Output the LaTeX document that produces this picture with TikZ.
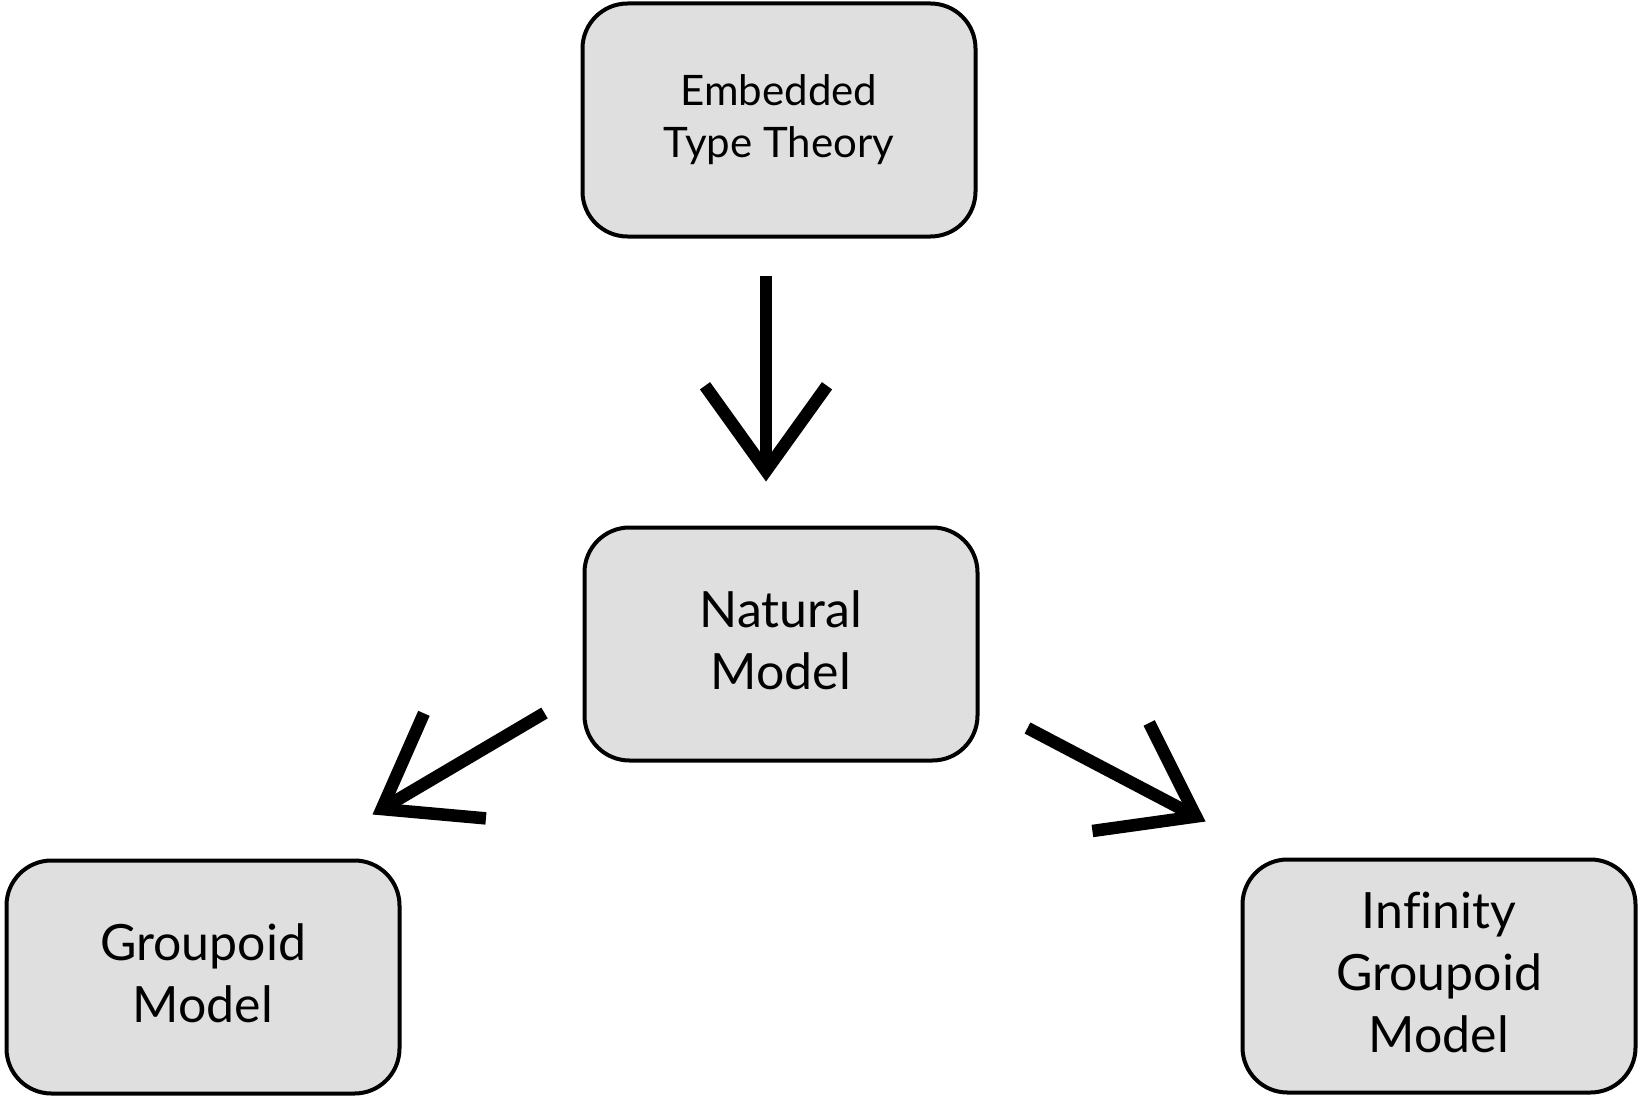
\documentclass[tikz,border=0pt]{standalone}
\usepackage{fontspec}
\setmainfont{Lato}[Ligatures=NoCommon]
\usetikzlibrary{arrows.meta}
\newcommand\tailstrut{\rule[-8pt]{0pt}{8pt}}
\tikzset{
  box/.style={draw=black, line width=4pt, fill=boxgray, rounded corners=45pt,
    minimum width=393pt, minimum height=233pt, inner sep=0pt, align=center,
    text=black},
  bigtext/.style={font=\fontsize{50pt}{62pt}\selectfont},
  smalltext/.style={font=\fontsize{42pt}{52pt}\selectfont},
  conn/.style={line width=12.5pt, -{Straight Barb[length=85pt, width=122pt]}}
}
\definecolor{boxgray}{HTML}{DFDFDF}
\begin{document}
\begin{tikzpicture}[x=1pt, y=-1pt]
  \useasboundingbox (0,0) rectangle (1640,1097);
  \node[box, smalltext] (ett) at (779,120) {Embedded\\Type Theory\tailstrut};
  \node[box, bigtext] (nm) at (781,644) {Natural\\Model\tailstrut};
  \node[box, bigtext] (gm) at (203,977) {Groupoid\\Model\tailstrut};
  \node[box, bigtext] (igm) at (1439,976) {Infinity\\Groupoid\\Model\tailstrut};
  \draw[conn] ([shift={(-13,37)}]ett.south) -- ([shift={(-15,-44)}]nm.north);
  \draw[conn] ([shift={(-38,69)}]nm.west) -- ([shift={(-29,-44)}]gm.north east);
  \draw[conn] ([shift={(48,84)}]nm.east) -- ([shift={(-35,-36)}]igm.north west);
\end{tikzpicture}
\end{document}
